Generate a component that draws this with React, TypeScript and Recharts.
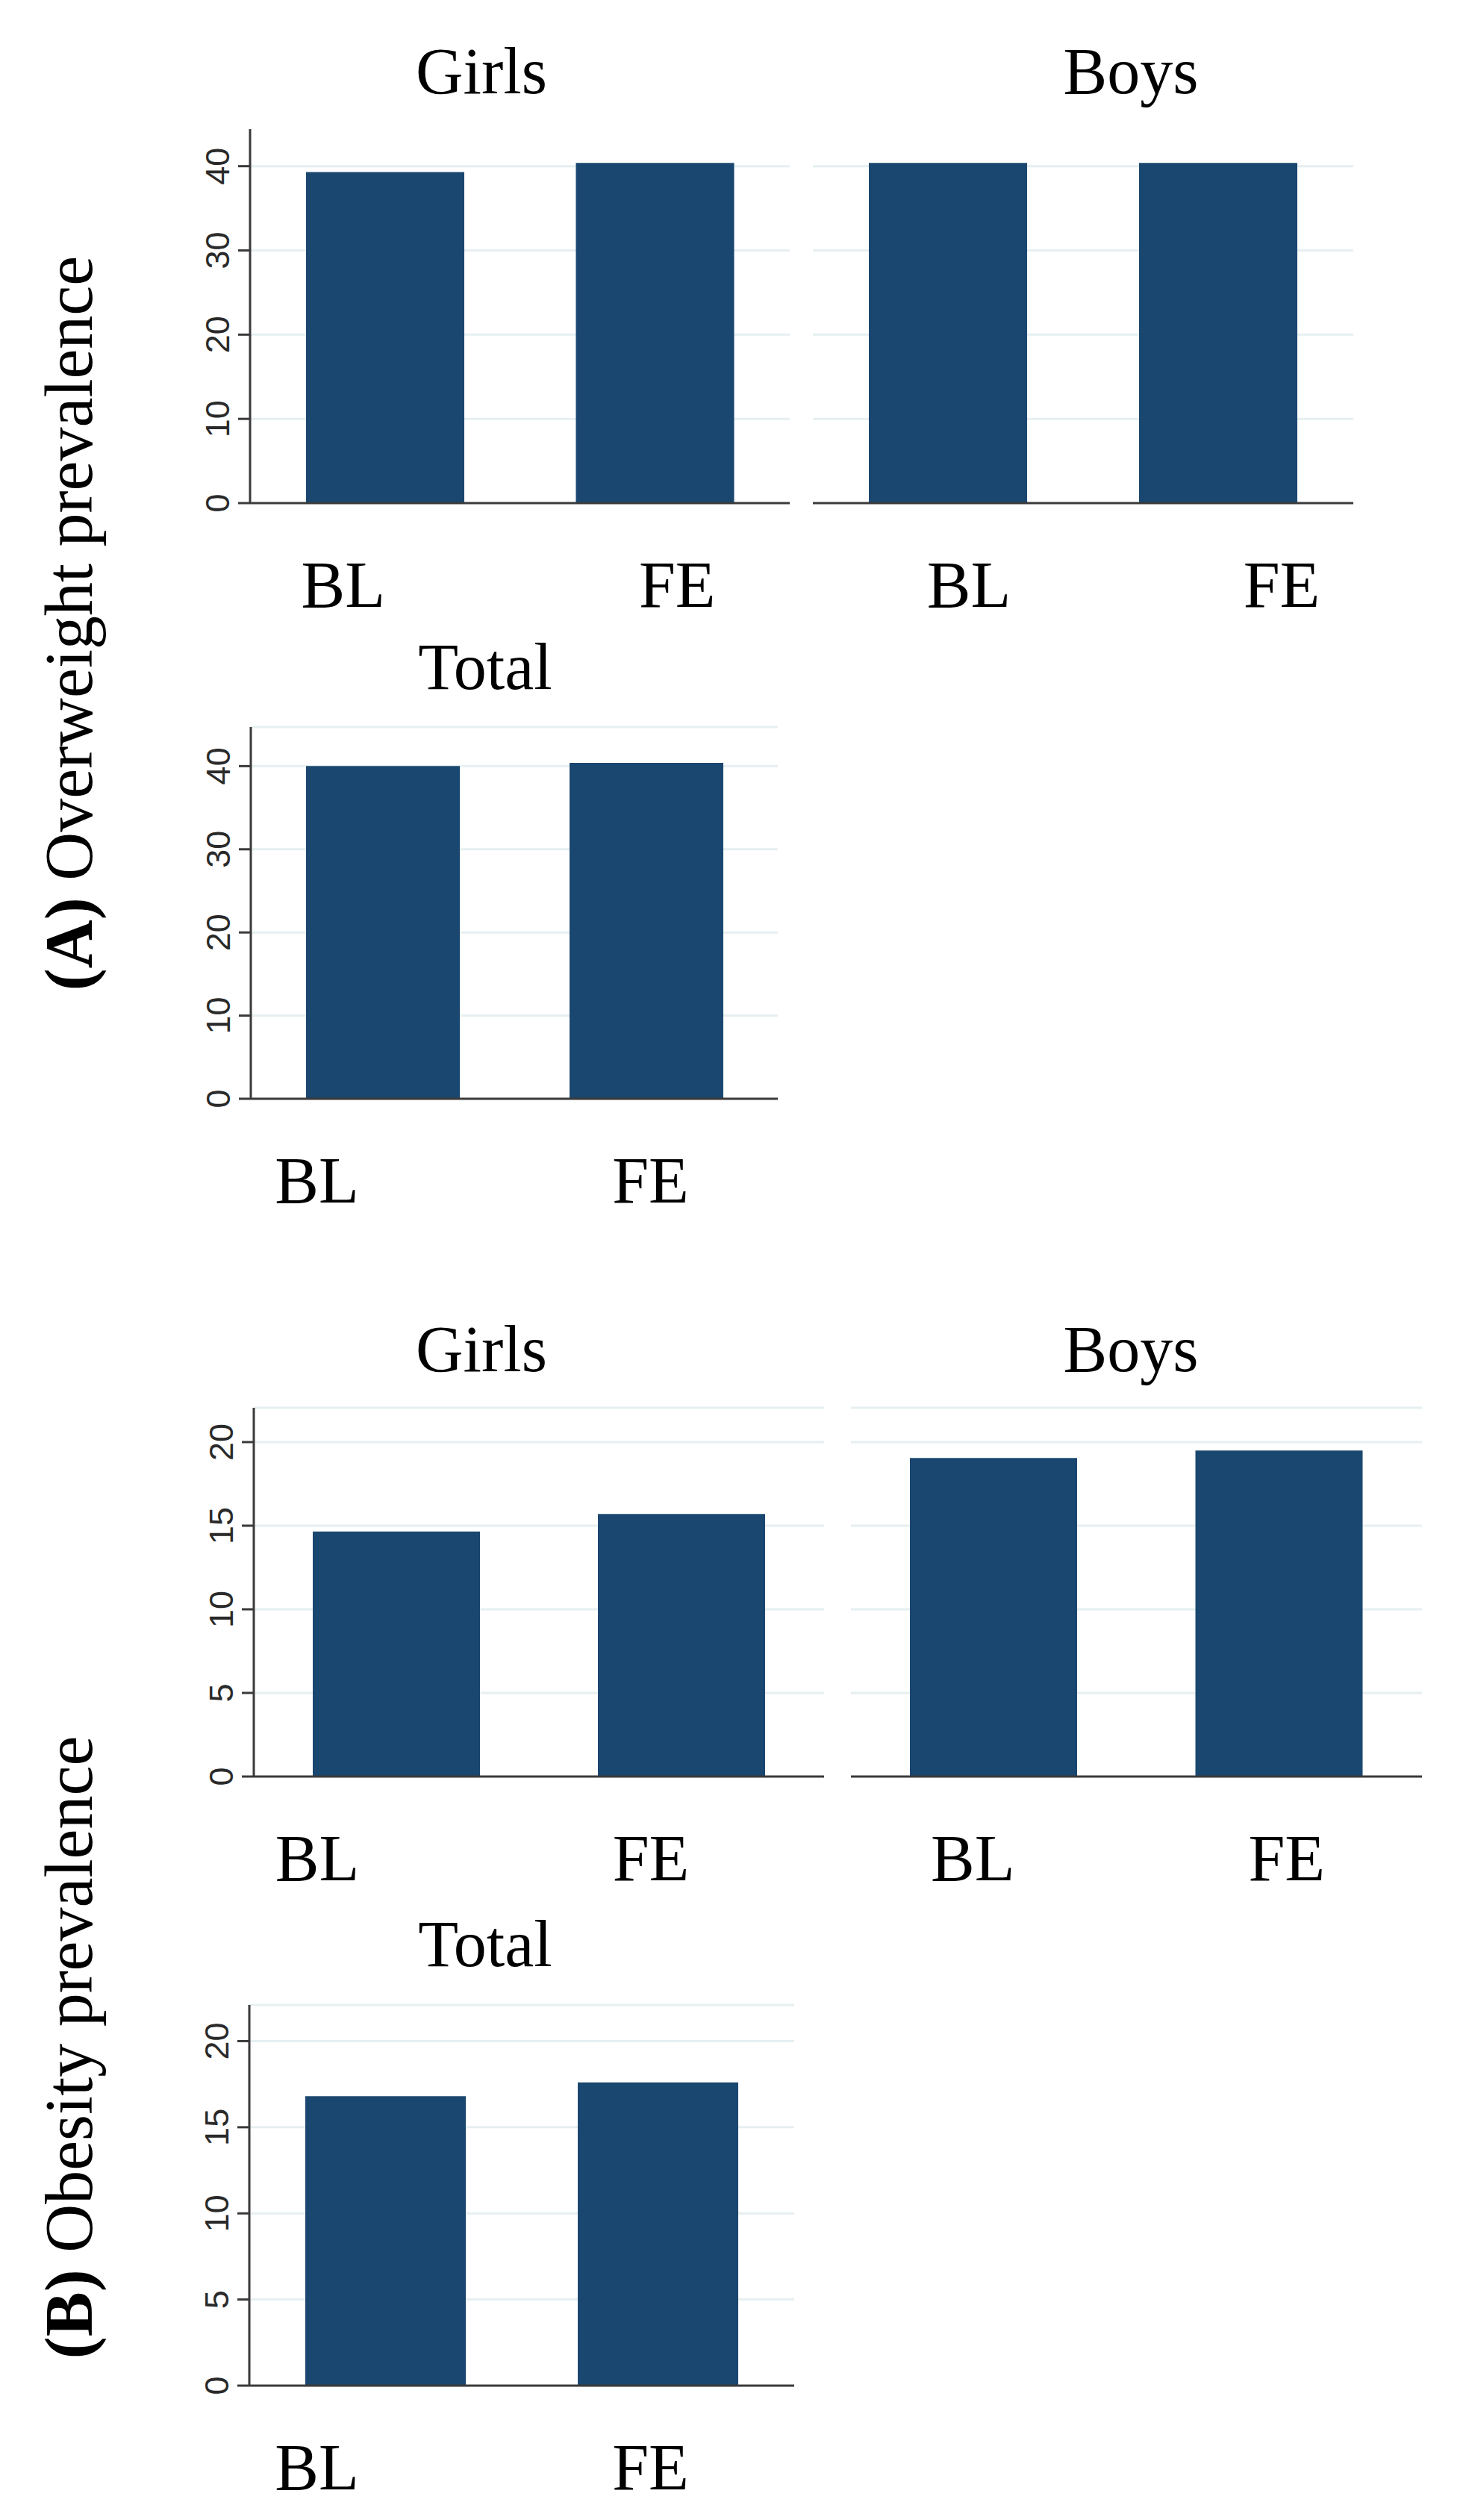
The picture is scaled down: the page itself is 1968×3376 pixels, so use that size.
import React from 'react';
import { BarChart, Bar, XAxis, YAxis, CartesianGrid, ReferenceLine } from 'recharts';

const categories = ['BL', 'FE'];

const overweightGirls = [39.3, 40.4];
const overweightBoys = [40.4, 40.4];
const overweightTotal = [40.0, 40.4];

const obesityGirls = [14.65, 15.7];
const obesityBoys = [19.05, 19.5];
const obesityTotal = [16.8, 17.6];

const overweightTicks = [0, 10, 20, 30, 40];
const obesityTicks = [0, 5, 10, 15, 20];

const NAVY = '#1a476f';
const GRID = '#e6eff1';
const AXIS = '#3a3a3a';
const SERIF = '"Liberation Serif", "Times New Roman", serif';
const SANS = '"Liberation Sans", Arial, sans-serif';

const Y_AXIS_W = 120;
const MT = 10;
const MR = 4;
const XH = 170;

interface Panel {
  key: string;
  values: number[];
  ticks: number[];
  yMax: number;
  x0: number;
  x1: number;
  yTop: number;
  yBottom: number;
  showY: boolean;
  barSize: number;
  labelShift: number[];
  topLine: boolean;
}

const toRows = (values: number[]) =>
  categories.map((name, i) => ({ name, value: values[i] }));

const panels: Panel[] = [
  { key: 'ow-girls', values: overweightGirls, ticks: overweightTicks, yMax: 44.4, x0: 335, x1: 1058, yTop: 173, yBottom: 674, showY: true, barSize: 212, labelShift: [-56, 30], topLine: false },
  { key: 'ow-boys', values: overweightBoys, ticks: overweightTicks, yMax: 44.4, x0: 1089, x1: 1813, yTop: 173, yBottom: 674, showY: false, barSize: 212, labelShift: [28, 85], topLine: false },
  { key: 'ow-total', values: overweightTotal, ticks: overweightTicks, yMax: 44.7, x0: 336, x1: 1042, yTop: 974, yBottom: 1472, showY: true, barSize: 206, labelShift: [-88, 6], topLine: true },
  { key: 'ob-girls', values: obesityGirls, ticks: obesityTicks, yMax: 22.05, x0: 340, x1: 1104, yTop: 1886, yBottom: 2380, showY: true, barSize: 224, labelShift: [-106, -41], topLine: true },
  { key: 'ob-boys', values: obesityBoys, ticks: obesityTicks, yMax: 22.05, x0: 1140, x1: 1905, yTop: 1886, yBottom: 2380, showY: false, barSize: 224, labelShift: [-28, 10], topLine: true },
  { key: 'ob-total', values: obesityTotal, ticks: obesityTicks, yMax: 22.1, x0: 334, x1: 1064, yTop: 2686, yBottom: 3196, showY: true, barSize: 215, labelShift: [-92, -10], topLine: true },
];

const titles = [
  { text: 'Girls', x: 645, y: 125 },
  { text: 'Boys', x: 1515, y: 125 },
  { text: 'Total', x: 650, y: 923 },
  { text: 'Girls', x: 645, y: 1837 },
  { text: 'Boys', x: 1515, y: 1837 },
  { text: 'Total', x: 650, y: 2634 },
];

const YTick = (props: any) => {
  const { x, y, payload } = props;
  const cx = x - 28;
  return (
    <text
      x={cx}
      y={y}
      dy="0.36em"
      textAnchor="middle"
      transform={`rotate(-90 ${cx} ${y})`}
      fontFamily={SANS}
      fontSize={45}
      fill="#2a2a2a"
    >
      {payload.value}
    </text>
  );
};

const makeXTick = (shift: number[]) => (props: any) => {
  const { x, y, payload, index } = props;
  return (
    <text
      x={x + (shift[index] || 0)}
      y={y + 139}
      textAnchor="middle"
      fontFamily={SERIF}
      fontSize={88}
      fill="#000"
    >
      {payload.value}
    </text>
  );
};

const PanelChart: React.FC<{ p: Panel }> = ({ p }) => {
  const yw = p.showY ? Y_AXIS_W : 0;
  const left = p.x0 - yw;
  const top = p.yTop - MT;
  const width = p.x1 - p.x0 + yw + MR;
  const height = p.yBottom - p.yTop + MT + XH;
  return (
    <div style={{ position: 'absolute', left, top, width, height }}>
      <BarChart
        width={width}
        height={height}
        data={toRows(p.values)}
        margin={{ top: MT, right: MR, bottom: 0, left: 0 }}
      >
        <CartesianGrid
          vertical={false}
          horizontalValues={p.ticks.filter((t) => t > 0)}
          stroke={GRID}
          strokeWidth={3}
        />
        {p.topLine && <ReferenceLine y={p.yMax} stroke={GRID} strokeWidth={3} />}
        <XAxis
          dataKey="name"
          height={XH}
          interval={0}
          tickSize={0}
          tickMargin={0}
          tickLine={false}
          axisLine={{ stroke: AXIS, strokeWidth: 3 }}
          tick={makeXTick(p.labelShift)}
        />
        <YAxis
          hide={!p.showY}
          width={Y_AXIS_W}
          type="number"
          domain={[0, p.yMax]}
          ticks={p.ticks}
          interval={0}
          allowDataOverflow
          tickSize={16}
          tickMargin={0}
          axisLine={{ stroke: AXIS, strokeWidth: 3 }}
          tickLine={{ stroke: AXIS, strokeWidth: 3 }}
          tick={<YTick />}
        />
        <Bar dataKey="value" fill={NAVY} barSize={p.barSize} isAnimationActive={false} />
      </BarChart>
    </div>
  );
};

export default function App() {
  return (
    <div style={{ position: 'absolute', left: 0, top: 0, width: 1968, height: 3376, background: '#fff' }}>
      {panels.map((p) => (
        <PanelChart key={p.key} p={p} />
      ))}
      <svg
        width={1968}
        height={3376}
        style={{ position: 'absolute', left: 0, top: 0, pointerEvents: 'none' }}
      >
        {titles.map((t, i) => (
          <text key={i} x={t.x} y={t.y} textAnchor="middle" fontFamily={SERIF} fontSize={88} fill="#000">
            {t.text}
          </text>
        ))}
        <text transform="rotate(-90)" x={-835} y={123} textAnchor="middle" fontFamily={SERIF} fontSize={90} fill="#000">
          <tspan fontWeight="bold">(A)</tspan> Overweight prevalence
        </text>
        <text transform="rotate(-90)" x={-2743} y={123} textAnchor="middle" fontFamily={SERIF} fontSize={90} fill="#000">
          <tspan fontWeight="bold">(B)</tspan> Obesity prevalence
        </text>
      </svg>
    </div>
  );
}
